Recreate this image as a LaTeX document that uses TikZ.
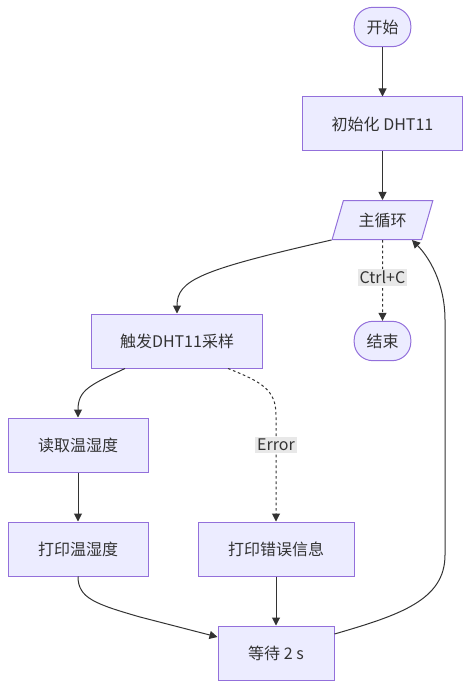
\documentclass[tikz,border=0pt]{standalone}
\usepackage{fontspec}
\setmainfont{Noto Sans CJK SC}
\usepackage{tikz}
\usetikzlibrary{positioning,arrows.meta,shapes.geometric}
\definecolor{nodefill}{HTML}{ECECFF}
\definecolor{nodeline}{HTML}{9370DB}
\definecolor{edgeline}{HTML}{333333}
\definecolor{labelbg}{HTML}{E8E8E8}

\begin{document}
\begin{tikzpicture}[
    x=0.75pt,y=-0.75pt,
    every node/.style={text=edgeline,font=\fontsize{12pt}{14pt}\selectfont},
    box/.style={rectangle,draw=nodeline,fill=nodefill,line width=0.75pt,minimum height=40.5pt,inner sep=0pt},
    term/.style={box,rounded corners=14pt,minimum width=42.5pt,minimum height=29.5pt},
    lean/.style={trapezium,trapezium left angle=65,trapezium right angle=115,trapezium stretches=true,draw=nodeline,fill=nodefill,line width=0.75pt,minimum width=75.75pt,minimum height=29.25pt,inner sep=0pt},
    edgelbl/.style={fill=labelbg,inner sep=1.5pt},
    flow/.style={draw=edgeline,line width=0.75pt,-{Triangle[length=6pt,width=6pt]}},
    maybe/.style={flow,dash pattern=on 2pt off 2pt},
  ]
    \useasboundingbox (0,0) rectangle (470,688);
    \node[term] (start) at (382.5,27) {开始};
    \node[box,minimum width=120pt] (init) at (382.5,124) {初始化 DHT11};
    \node[lean] (loop) at (382.5,220) {主循环};
    \node[term] (stop) at (382.5,341) {结束};
    \node[box,minimum width=128.25pt] (trig) at (177,341) {触发DHT11采样};
    \node[box,minimum width=105pt] (read) at (78,445) {读取温湿度};
    \node[box,minimum width=105pt] (show) at (78,549) {打印温湿度};
    \node[box,minimum width=117pt] (fail) at (276,549) {打印错误信息};
    \node[box,minimum width=87pt] (wait) at (276,653) {等待 2 s};
    \draw[flow] (start) -- (init);
    \draw[flow] (init) -- (loop);
    \draw[flow] (loop.bottom left corner) .. controls (200,270) and (177,280) .. (trig.north);
    \draw[maybe] (loop) -- node[edgelbl,pos=0.46] {Ctrl+C} (stop);
    \draw[flow] ([xshift=-39pt]trig.south) .. controls (90,385) and (78,390) .. (read.north);
    \draw[maybe] ([xshift=38.25pt]trig.south) .. controls (262,382) and (276,390) .. (276,415)
      -- node[edgelbl,pos=0.28] {Error} (fail.north);
    \draw[flow] (read) -- (show);
    \draw[flow] (fail) -- (wait);
    \draw[flow] (show.south) .. controls (78,598) and (95,604) .. (140,617) -- ([yshift=12pt]wait.west);
    \draw[flow] ([yshift=14.25pt]wait.east) .. controls (400,615) and (445,600) .. (445,555)
      -- (445,320) .. controls (445,282) and (428,256) .. ([xshift=-7.5pt]loop.bottom right corner);
  \end{tikzpicture}
\end{document}
